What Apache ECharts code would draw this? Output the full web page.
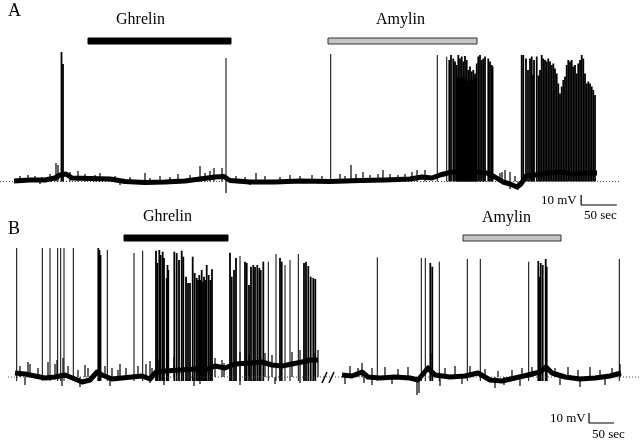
<!DOCTYPE html>
<html>
<head>
<meta charset="utf-8">
<title>Ghrelin / Amylin recordings</title>
<script src="https://cdn.jsdelivr.net/npm/echarts@6/dist/echarts.min.js"></script>
<style>
  html, body { margin: 0; padding: 0; background: #fff; }
  #main { width: 640px; height: 440px; }
</style>
</head>
<body>
<div id="main"></div>
<script type="text/javascript">
// time in sec, potential in mV relative to resting level (dotted line)

// panel A
var baseA = [[0,0.5],[22.4,1.5],[43.4,1.5],[57.4,3.5],[64.4,6.5],[72.8,7.5],[81.2,3.5],[106.4,3],
  [134.4,2.5],[155.4,0],[183.4,-1],[211.4,-0.5],[239.4,0.5],[260.4,2.5],[281.4,4.5],[294,5],
  [302.4,1],[330.4,-0.5],[365.4,-0.5],[400.4,0.5],[442.4,0],[484.4,1],[519.4,1.5],[554.4,2.5],
  [571.2,4.5],[585.2,3.5],[596.4,6.5],[610.4,9],[627.2,10.5],[645.4,9.5],[662.2,8.5],[673.4,4.5],
  [684.6,-0.5],[694.4,-2.5],[704.2,-5.5],[709.8,-2.5],[716.8,5.5],[729.4,6.5],[747.6,8.5],
  [764.4,9.5],[781.2,7.5],[799.4,8.5],[816.2,8.5]];
var spikesA = [[66.5,129.5],[68.6,117.5],[296.8,123.5],[443.4,127.5],
  [592.6,126.5],[605.8,124.8],[609.4,121.5],[611.8,126.5],[615,123],[617.4,120],[619.8,116.5],
  [620.9,104],[622,126.5],[623.3,105],[624.4,123],[625.5,103],[626.8,125],[627.9,104],[629,120],
  [630.3,102],[631.4,125.5],[632.5,104],[633.8,121.5],[634.9,101],[636,111.5],[637.3,100],
  [638.4,115],[639.5,102],[640.8,110],[641.9,101],[643,111.5],[644.3,103],[645.4,108],[646.5,104],
  [647.8,118],[650,125],[652.4,126.5],[654.8,121.5],[657,123],[659.4,125],[664,123],[666.4,120],
  [668.8,116.5],[670,115],
  [710.8,126.5],[713,126.5],[716.8,123],[719.6,111.5],[722.4,123],[724.8,125],[726.6,106.5],
  [728,121.5],[731.8,125],[734.3,106],[736.4,111.5],[738.8,126.5],[741,123],[743.4,121.5],
  [745.8,120],[748,123],[750.4,120],[752.8,116.5],[755,118],[757.4,113],[759.8,108],[762,98],
  [764.4,88],[766.8,95],[769,101.5],[771.4,105],[773.8,116.5],[776,121.5],[778.4,120],
  [780.8,121.5],[783,115],[785.4,116.5],[787.8,108],[790,118],[792.4,121.5],[794.8,126.5],
  [797,123],[799.4,108],[801.8,98],[804,100],[806.4,98],[808.8,95],[811,91.5],[813.4,86.5]];
// small deflections riding on the baseline (noise)
var minorA = [[8.4,5.5],[19.6,6.5],[29.4,5.5],[36.4,-2.5],[39.2,4.5],[50.4,7.5],[58.8,18.5],
  [61.6,16.5],[78.4,9.5],[89.6,10.5],[99.4,7.5],[113.4,6.5],[120.4,8.5],[141.4,5.5],[148.4,-3.5],
  [162.4,4.5],[183.4,8.5],[190.4,3.5],[204.4,5.5],[218.4,4.5],[229.6,7.5],[246.4,6.5],[260.4,15.5],
  [267.4,8.5],[274.4,10.5],[280,13.5],[291.2,13.5],[296.8,-11.5],[310.8,5.5],[323.4,4.5],
  [330.4,-3.5],[338.8,8.5],[351.4,5.5],[372.4,4.5],[386.4,6.5],[400.4,5.5],[417.2,6.5],[431.2,5.5],
  [456.4,7.5],[463.4,5.5],[471.8,16.5],[478.8,7.5],[488.6,9.5],[498.4,6.5],[509.6,7.5],[516.6,11.5],
  [526.4,7.5],[537.6,6.5],[547.4,7.5],[557.2,9.5],[564.2,11.5],[575.4,11.5],[680.4,8.5],
  [683.2,9.5],[687.4,11.5],[694.4,9.5],[694.4,-7.5],[701.4,5.5],[705.6,-8.5]];

// panel B, before and after the break
var baseB1 = [[2,4],[22,3],[42,1],[62,-1],[82,0],[102,2],[122,-2],[136,-5],[152,-3],[166,5],
  [176,2],[196,-2],[216,-1],[236,0],[256,1],[272,-2],[284,5],[302,6],[332,7],[362,8],[388,8],
  [402,11],[422,9],[442,13],[472,14],[496,15],[516,12],[536,11],[556,13],[576,15],[592,17],[608,17]];
var baseB2 = [[656,2],[676,1],[696,5],[708,0],[732,-1],[762,0],[792,-1],[808,-3],[828,9],[842,2],
  [872,0],[902,1],[928,4],[952,-3],[976,-4],[1002,-1],[1028,2],[1052,5],[1064,10],[1076,4],
  [1102,0],[1132,-2],[1162,-1],[1192,1],[1214,4]];
var spikesB = [[5.4,129],[56.6,129],[72,129],[87.4,129],[93.4,129],[100,129],[118.6,129],
  [168.6,129],[171,127],[173,122],[186.6,127],[240,124],[257.4,126.3],[284,126.3],[286.6,114],
  [290.6,127],[293.4,122],[297.4,125.3],[300,119],[305.4,99],[307,112],[308.6,107],[320.6,125.3],
  [325.4,124],[330,117],[335.4,126.3],[338.6,120.3],[344,100.3],[348,94],[352,94],[357.4,120.3],
  [361.4,104],[365.4,99],[368,97],[370.6,102],[373,97],[375.4,107],[378,95],[380,100.3],
  [382.6,97],[385.4,112],[389.4,102],[392.6,97],[396,107.7],
  [432,124.3],[435.4,100.3],[440,107],[444,119],[452,121],[462,115.3],[465.4,114],[470,92],
  [474,110.3],[478.6,112],[482,110],[486.6,112],[490.6,109],[493.4,107],[498.6,115.3],
  [508.6,115.3],[524,123],[532,119],[535.4,115.3],[542,112],[552,117],[568.6,123],[580,114],
  [584,115.3],[588.6,111],[593.4,100.3],[598.6,99],[602.6,98],
  [726.6,119.7],[814.6,119],[822.6,119],[832.6,114],[836.6,110.3],[850.6,115.3],[906.6,118],
  [932.6,118],[1029.4,115.3],[1048.6,116],[1050.6,100.3],[1053.4,114],[1057.4,112],
  [1063.4,118],[1065.4,110.3],[1210.6,118]];
var minorB = [[12,11],[22,-8],[28,15],[32,13],[48,9],[68,15],[82,13],[86,17],[96,-9],[98,19],
  [108,11],[128,7],[132,-10],[142,12],[148,9],[182,11],[192,-9],[196,9],[208,7],[212,13],[224,9],
  [248,11],[264,13],[272,16],[272,-6],[276,9],[290,18],[300,-8],[320,20],[360,-9],[372,22],
  [372,-7],[402,19],[416,17],[420,14],[452,25],[452,-8],[470,22],[502,24],[516,22],[522,-7],
  [556,25],[572,27],[572,-6],[600,24],[608,27],
  [662,-7],[672,11],[688,9],[696,14],[700,-6],[716,9],[716,-8],[742,10],[756,-7],[768,8],
  [788,10],[806,-18],[810,-16],[836,24],[852,-9],[862,9],[882,11],[896,-7],[912,11],[942,8],
  [962,-11],[968,6],[980,-8],[996,7],[1012,-9],[1016,9],[1036,10],[1052,17],[1082,9],[1092,-8],
  [1108,10],[1128,7],[1132,-10],[1152,10],[1172,7],[1182,-8],[1196,9],[1212,13]];

// drug applications: [start, end]
var drugNames = ['Ghrelin', 'Amylin'];
var drugsA = [[103.6, 303.8], [439.6, 648.2]];
var drugsB = [[220, 428], [898, 1094]];
var drugColors = ['#000', '#c4c4c4'];

var serif = '"Liberation Serif", "DejaVu Serif", serif';

var myChart = echarts.init(document.getElementById('main'));

// spikes that fire close together are drawn a bit wider so bursts fill in
function spikeItem(list, foot, gap) {
    return function (params, api) {
        var i = params.dataIndex;
        var t = api.value(0);
        var dense = (i > 0 && t - list[i - 1][0] < gap) ||
                    (i < list.length - 1 && list[i + 1][0] - t < gap);
        var a = api.coord([t, foot]);
        var b = api.coord([t, api.value(1)]);
        return {
            type: 'line',
            shape: { x1: a[0], y1: a[1], x2: b[0], y2: b[1] },
            style: { stroke: '#000', lineWidth: dense ? 1.8 : 1 }
        };
    };
}

function noiseItem(params, api) {
    var a = api.coord([api.value(0), 0]);
    var b = api.coord([api.value(0), api.value(1)]);
    return {
        type: 'line',
        shape: { x1: a[0], y1: a[1], x2: b[0], y2: b[1] },
        style: { stroke: '#000', lineWidth: 1.2 }
    };
}

function drugItem(level) {
    return function (params, api) {
        var a = api.coord([api.value(0), level]);
        var b = api.coord([api.value(1), level]);
        return {
            type: 'rect',
            shape: { x: a[0], y: a[1] - 3, width: b[0] - a[0], height: 6 },
            style: {
                fill: drugColors[params.dataIndex],
                stroke: params.dataIndex ? '#333' : '#000',
                lineWidth: 1
            }
        };
    };
}

function custom(data, g, render, enc) {
    return {
        type: 'custom', xAxisIndex: g, yAxisIndex: g, data: data,
        renderItem: render, encode: enc || { x: 0, y: 1 }, silent: true
    };
}

function trace(data, g) {
    return {
        type: 'line', data: data, xAxisIndex: g, yAxisIndex: g,
        symbol: 'none', silent: true,
        lineStyle: { color: '#000', width: 5, join: 'round' }
    };
}

function flatLine(data, g, style) {
    return {
        type: 'line', data: data, xAxisIndex: g, yAxisIndex: g,
        symbol: 'none', silent: true, lineStyle: style
    };
}

function texts(str, x, y, size) {
    return {
        type: 'text', left: x, top: y,
        style: {
            text: str, x: 0, y: 0, fill: '#000',
            font: size + 'px ' + serif
        }
    };
}

var dotted = { color: '#444', width: 1, type: [1, 2] };
var bar = { color: '#000', width: 1.2 };

var option = {
    animation: false,
    grid: [
        { left: 0, top: 0, width: 640, height: 220 },
        { left: 0, top: 220, width: 640, height: 220 }
    ],
    xAxis: [
        { type: 'value', gridIndex: 0, min: -19.6, max: 876.4, show: false },
        { type: 'value', gridIndex: 1, min: -28, max: 1252, show: false }
    ],
    yAxis: [
        { type: 'value', gridIndex: 0, min: -38.5, max: 181.5, show: false },
        { type: 'value', gridIndex: 1, min: -63, max: 157, show: false }
    ],
    series: [
        flatLine([[-19.6, 0], [848.4, 0]], 0, dotted),
        flatLine([[-12, 0], [1252, 0]], 1, dotted),
        custom(spikesA, 0, spikeItem(spikesA, 0, 3)),
        custom(minorA, 0, noiseItem),
        trace(baseA, 0),
        custom(spikesB, 1, spikeItem(spikesB, -4, 6)),
        custom(minorB, 1, noiseItem),
        trace(baseB1, 1),
        trace(baseB2, 1),
        custom(drugsA, 0, drugItem(140.5), { x: [0, 1] }),
        custom(drugsB, 1, drugItem(139), { x: [0, 1] }),
        // scale bars: 10 mV / 50 sec
        flatLine([[794, -13.5], [794, -23.5], [844, -23.5]], 0, bar),
        flatLine([[1150, -36], [1150, -46], [1200, -46]], 1, bar)
    ],
    graphic: [
        texts('A', 8, 2, 18),
        texts('B', 8, 220, 18),
        texts(drugNames[0], 116, 12, 16),
        texts(drugNames[1], 376, 12, 16),
        texts(drugNames[0], 143, 209, 16),
        texts(drugNames[1], 482, 210, 16),
        texts('10 mV', 541, 194, 13),
        texts('50 sec', 584, 209, 13),
        texts('10 mV', 550, 412, 13),
        texts('50 sec', 592, 428, 13),
        { type: 'line', shape: { x1: 322, y1: 383, x2: 327, y2: 372 },
          style: { stroke: '#000', lineWidth: 1.5 } },
        { type: 'line', shape: { x1: 329, y1: 383, x2: 334, y2: 372 },
          style: { stroke: '#000', lineWidth: 1.5 } }
    ]
};

myChart.setOption(option);
</script>
</body>
</html>
